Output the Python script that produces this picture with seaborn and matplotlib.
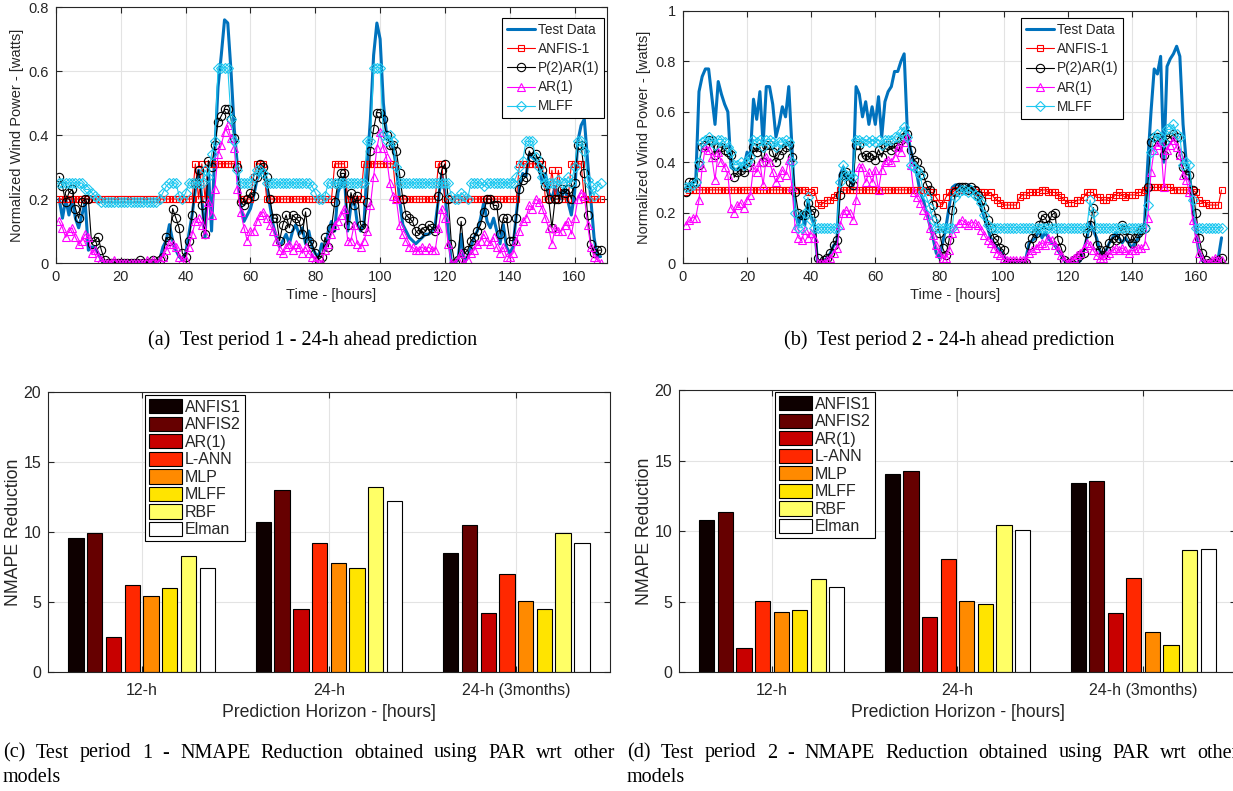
import numpy as np
import pandas as pd
import seaborn as sns
import matplotlib
matplotlib.use("Agg")
import matplotlib.pyplot as plt
from matplotlib.ticker import FuncFormatter, FixedLocator

# ---------------- data: test period 1 (hourly, 24-h ahead) ----------------
hours = list(range(1, 169))

test1 = [0.20, 0.14, 0.20, 0.15, 0.20, 0.14, 0.11, 0.15, 0.19, 0.04,
         0.05, 0.05, 0.03, 0.01, 0.00, 0.00, 0.00, 0.00, 0.00, 0.00,
         0.00, 0.00, 0.00, 0.00, 0.00, 0.00, 0.00, 0.00, 0.00, 0.00,
         0.00, 0.01, 0.05, 0.07, 0.12, 0.07, 0.04, 0.02, 0.01, 0.03,
         0.09, 0.15, 0.23, 0.29, 0.20, 0.08, 0.30, 0.10, 0.35, 0.55,
         0.65, 0.76, 0.75, 0.60, 0.42, 0.30, 0.18, 0.13, 0.15, 0.17,
         0.21, 0.26, 0.28, 0.30, 0.24, 0.18, 0.12, 0.08, 0.05, 0.07,
         0.09, 0.06, 0.10, 0.12, 0.09, 0.11, 0.06, 0.10, 0.05, 0.03,
         0.02, 0.06, 0.04, 0.10, 0.13, 0.10, 0.22, 0.25, 0.27, 0.10,
         0.18, 0.20, 0.12, 0.10, 0.12, 0.30, 0.45, 0.65, 0.75, 0.70,
         0.50, 0.40, 0.38, 0.36, 0.30, 0.20, 0.12, 0.10, 0.08, 0.07,
         0.06, 0.07, 0.08, 0.09, 0.09, 0.10, 0.12, 0.20, 0.28, 0.22,
         0.10, 0.00, 0.00, 0.01, 0.09, 0.00, 0.02, 0.05, 0.08, 0.10,
         0.14, 0.19, 0.13, 0.11, 0.14, 0.10, 0.06, 0.12, 0.05, 0.03,
         0.05, 0.15, 0.24, 0.28, 0.27, 0.34, 0.33, 0.32, 0.30, 0.25,
         0.28, 0.22, 0.20, 0.24, 0.21, 0.20, 0.24, 0.19, 0.15, 0.22,
         0.38, 0.43, 0.45, 0.32, 0.20, 0.08, 0.02, 0.02]

anfis1_p1 = [0.20] * 40 + [
         0.20, 0.20, 0.31, 0.20, 0.31, 0.20, 0.31, 0.31, 0.31, 0.31,
         0.31, 0.31, 0.31, 0.31, 0.31, 0.31, 0.20, 0.20, 0.20, 0.20,
         0.27, 0.31, 0.31, 0.31, 0.20, 0.20, 0.20, 0.20, 0.20, 0.20,
         0.20, 0.20, 0.20, 0.20, 0.20, 0.20, 0.20, 0.20, 0.20, 0.20,
         0.20, 0.20, 0.20, 0.20, 0.20, 0.31, 0.31, 0.31, 0.31, 0.20,
         0.20, 0.20, 0.20, 0.20, 0.31, 0.31, 0.31, 0.31, 0.31, 0.31,
         0.31, 0.31, 0.31, 0.31, 0.20, 0.20, 0.20, 0.20, 0.20, 0.20,
         0.20, 0.20, 0.20, 0.20, 0.20, 0.20, 0.20, 0.31, 0.31, 0.20,
         0.20, 0.20, 0.20, 0.20, 0.20, 0.20, 0.20, 0.20, 0.20, 0.20,
         0.20, 0.20, 0.20, 0.20, 0.20, 0.20, 0.20, 0.20, 0.20, 0.20,
         0.20, 0.20, 0.31, 0.31, 0.31, 0.31, 0.31, 0.31, 0.31, 0.31,
         0.20, 0.20, 0.29, 0.20, 0.29, 0.20, 0.20, 0.20, 0.31, 0.31,
         0.31, 0.31, 0.20, 0.20, 0.20, 0.20, 0.20, 0.20]

par_p1 = [0.27, 0.24, 0.19, 0.22, 0.23, 0.17, 0.14, 0.19, 0.20, 0.20,
          0.06, 0.07, 0.08, 0.04, 0.01, 0.00, 0.00, 0.00, 0.00, 0.00,
          0.00, 0.00, 0.00, 0.00, 0.00, 0.01, 0.00, 0.00, 0.00, 0.01,
          0.00, 0.01, 0.02, 0.08, 0.07, 0.17, 0.14, 0.11, 0.03, 0.02,
          0.07, 0.15, 0.25, 0.29, 0.18, 0.09, 0.32, 0.30, 0.37, 0.44,
          0.46, 0.48, 0.48, 0.45, 0.39, 0.30, 0.19, 0.18, 0.20, 0.22,
          0.21, 0.27, 0.31, 0.30, 0.27, 0.20, 0.14, 0.14, 0.07, 0.12,
          0.15, 0.11, 0.15, 0.14, 0.13, 0.09, 0.16, 0.07, 0.06, 0.03,
          0.01, 0.02, 0.08, 0.05, 0.11, 0.19, 0.25, 0.28, 0.28, 0.12,
          0.22, 0.18, 0.21, 0.12, 0.11, 0.19, 0.35, 0.42, 0.47, 0.47,
          0.45, 0.40, 0.37, 0.37, 0.35, 0.28, 0.20, 0.15, 0.14, 0.13,
          0.10, 0.09, 0.11, 0.10, 0.12, 0.11, 0.10, 0.21, 0.29, 0.31,
          0.20, 0.06, 0.00, 0.01, 0.13, 0.03, 0.04, 0.07, 0.08, 0.10,
          0.12, 0.16, 0.20, 0.20, 0.18, 0.18, 0.09, 0.14, 0.14, 0.07,
          0.07, 0.14, 0.23, 0.26, 0.27, 0.35, 0.33, 0.34, 0.32, 0.29,
          0.24, 0.20, 0.11, 0.20, 0.20, 0.23, 0.22, 0.23, 0.20, 0.25,
          0.37, 0.37, 0.28, 0.15, 0.06, 0.03, 0.04, 0.04]

ar1_p1 = [0.13, 0.11, 0.08, 0.10, 0.11, 0.08, 0.06, 0.07, 0.09, 0.08,
          0.03, 0.04, 0.02, 0.01, 0.00, 0.00, 0.00, 0.01, 0.00, 0.00,
          0.00, 0.00, 0.00, 0.00, 0.00, 0.00, 0.00, 0.01, 0.00, 0.01,
          0.00, 0.01, 0.02, 0.04, 0.06, 0.06, 0.05, 0.02, 0.01, 0.01,
          0.05, 0.09, 0.13, 0.14, 0.12, 0.09, 0.19, 0.15, 0.23, 0.34,
          0.37, 0.41, 0.43, 0.39, 0.36, 0.23, 0.16, 0.11, 0.07, 0.10,
          0.10, 0.13, 0.15, 0.16, 0.14, 0.12, 0.10, 0.07, 0.04, 0.03,
          0.05, 0.06, 0.04, 0.06, 0.05, 0.03, 0.05, 0.03, 0.02, 0.01,
          0.00, 0.00, 0.04, 0.06, 0.09, 0.12, 0.13, 0.15, 0.17, 0.07,
          0.07, 0.12, 0.06, 0.05, 0.07, 0.10, 0.18, 0.27, 0.36, 0.41,
          0.36, 0.33, 0.25, 0.21, 0.20, 0.12, 0.09, 0.07, 0.05, 0.05,
          0.04, 0.04, 0.05, 0.04, 0.05, 0.04, 0.04, 0.11, 0.17, 0.14,
          0.06, 0.00, 0.00, 0.01, 0.03, 0.00, 0.01, 0.03, 0.04, 0.06,
          0.07, 0.09, 0.07, 0.06, 0.08, 0.05, 0.03, 0.05, 0.02, 0.02,
          0.03, 0.07, 0.10, 0.13, 0.14, 0.18, 0.17, 0.20, 0.19, 0.17,
          0.14, 0.11, 0.06, 0.11, 0.10, 0.10, 0.12, 0.13, 0.09, 0.14,
          0.20, 0.22, 0.21, 0.12, 0.05, 0.02, 0.01, 0.00]

mlff_p1 = [0.25, 0.25, 0.25, 0.25, 0.25, 0.25, 0.25, 0.25, 0.23, 0.23,
           0.22, 0.21, 0.20, 0.19, 0.19, 0.19, 0.19, 0.19, 0.19, 0.19,
           0.19, 0.19, 0.19, 0.19, 0.19, 0.19, 0.19, 0.19, 0.19, 0.19,
           0.19, 0.20, 0.22, 0.24, 0.25, 0.25, 0.25, 0.21, 0.20, 0.22,
           0.25, 0.25, 0.25, 0.25, 0.25, 0.29, 0.27, 0.34, 0.38, 0.61,
           0.61, 0.61, 0.61, 0.45, 0.38, 0.29, 0.25, 0.25, 0.25, 0.25,
           0.27, 0.29, 0.29, 0.28, 0.25, 0.25, 0.25, 0.25, 0.25, 0.25,
           0.25, 0.25, 0.25, 0.25, 0.25, 0.25, 0.25, 0.25, 0.24, 0.22,
           0.20, 0.20, 0.21, 0.25, 0.25, 0.25, 0.25, 0.25, 0.25, 0.25,
           0.25, 0.25, 0.25, 0.25, 0.25, 0.38, 0.38, 0.61, 0.61, 0.61,
           0.40, 0.38, 0.40, 0.38, 0.30, 0.25, 0.25, 0.25, 0.25, 0.25,
           0.25, 0.25, 0.25, 0.25, 0.25, 0.25, 0.25, 0.25, 0.25, 0.25,
           0.25, 0.21, 0.20, 0.20, 0.22, 0.21, 0.20, 0.25, 0.25, 0.25,
           0.25, 0.24, 0.25, 0.25, 0.25, 0.25, 0.25, 0.25, 0.25, 0.25,
           0.25, 0.27, 0.30, 0.32, 0.38, 0.38, 0.38, 0.33, 0.30, 0.27,
           0.25, 0.25, 0.25, 0.25, 0.26, 0.25, 0.25, 0.27, 0.25, 0.30,
           0.38, 0.38, 0.35, 0.26, 0.24, 0.21, 0.24, 0.25]

# ---------------- data: test period 2 ----------------
test2 = [0.30, 0.31, 0.32, 0.33, 0.68, 0.74, 0.77, 0.77, 0.66, 0.55,
         0.72, 0.67, 0.63, 0.60, 0.38, 0.37, 0.37, 0.38, 0.38, 0.44,
         0.42, 0.65, 0.57, 0.68, 0.47, 0.70, 0.70, 0.63, 0.50, 0.55,
         0.62, 0.58, 0.70, 0.46, 0.20, 0.15, 0.20, 0.15, 0.25, 0.18,
         0.15, 0.00, 0.00, 0.01, 0.02, 0.04, 0.07, 0.08, 0.35, 0.38,
         0.33, 0.35, 0.30, 0.70, 0.67, 0.58, 0.64, 0.55, 0.62, 0.55,
         0.66, 0.50, 0.64, 0.68, 0.70, 0.76, 0.76, 0.80, 0.83, 0.52,
         0.45, 0.40, 0.35, 0.28, 0.25, 0.20, 0.15, 0.10, 0.04, 0.02,
         0.08, 0.14, 0.22, 0.30, 0.31, 0.31, 0.30, 0.29, 0.31, 0.30,
         0.29, 0.27, 0.22, 0.18, 0.14, 0.10, 0.08, 0.06, 0.05, 0.03,
         0.01, 0.00, 0.00, 0.00, 0.00, 0.00, 0.02, 0.08, 0.09, 0.10,
         0.13, 0.10, 0.12, 0.10, 0.08, 0.07, 0.05, 0.03, 0.01, 0.00,
         0.00, 0.00, 0.00, 0.01, 0.05, 0.10, 0.16, 0.13, 0.10, 0.05,
         0.03, 0.05, 0.08, 0.10, 0.12, 0.10, 0.08, 0.10, 0.08, 0.06,
         0.08, 0.10, 0.12, 0.16, 0.40, 0.60, 0.77, 0.75, 0.82, 0.40,
         0.78, 0.81, 0.83, 0.86, 0.82, 0.55, 0.40, 0.35, 0.22, 0.12,
         0.04, 0.01, 0.00, 0.00, 0.00, 0.00, 0.02, 0.10]

anfis1_p2 = [0.28, 0.29, 0.29, 0.29, 0.29, 0.29, 0.29, 0.29, 0.29, 0.29,
             0.29, 0.29, 0.29, 0.29, 0.29, 0.29, 0.29, 0.29, 0.29, 0.29,
             0.29, 0.29, 0.29, 0.29, 0.29, 0.29, 0.29, 0.29, 0.29, 0.29,
             0.29, 0.29, 0.29, 0.29, 0.29, 0.29, 0.29, 0.29, 0.28, 0.28,
             0.29, 0.24, 0.23, 0.24, 0.25, 0.25, 0.26, 0.27, 0.29, 0.29,
             0.29, 0.29, 0.29, 0.29, 0.29, 0.29, 0.29, 0.29, 0.29, 0.29,
             0.29, 0.29, 0.29, 0.29, 0.29, 0.29, 0.29, 0.29, 0.29, 0.29,
             0.29, 0.29, 0.29, 0.29, 0.29, 0.29, 0.28, 0.28, 0.26, 0.24,
             0.23, 0.26, 0.28, 0.28, 0.29, 0.29, 0.29, 0.29, 0.29, 0.29,
             0.29, 0.28, 0.28, 0.28, 0.27, 0.28, 0.26, 0.25, 0.24, 0.23,
             0.23, 0.23, 0.23, 0.23, 0.26, 0.27, 0.27, 0.28, 0.28, 0.28,
             0.28, 0.29, 0.29, 0.28, 0.28, 0.28, 0.27, 0.26, 0.25, 0.24,
             0.24, 0.24, 0.25, 0.25, 0.26, 0.28, 0.28, 0.28, 0.26, 0.26,
             0.25, 0.25, 0.26, 0.26, 0.27, 0.28, 0.27, 0.26, 0.27, 0.27,
             0.27, 0.28, 0.28, 0.29, 0.30, 0.30, 0.30, 0.30, 0.30, 0.30,
             0.30, 0.30, 0.29, 0.29, 0.29, 0.29, 0.29, 0.29, 0.29, 0.28,
             0.25, 0.24, 0.24, 0.23, 0.23, 0.23, 0.23, 0.29]

par_p2 = [0.28, 0.32, 0.32, 0.32, 0.39, 0.46, 0.47, 0.49, 0.49, 0.43,
          0.46, 0.46, 0.45, 0.44, 0.43, 0.34, 0.36, 0.37, 0.36, 0.38,
          0.40, 0.46, 0.44, 0.46, 0.40, 0.47, 0.47, 0.44, 0.40, 0.43,
          0.45, 0.46, 0.47, 0.42, 0.28, 0.20, 0.19, 0.19, 0.24, 0.21,
          0.20, 0.02, 0.00, 0.01, 0.02, 0.04, 0.07, 0.09, 0.27, 0.35,
          0.36, 0.32, 0.31, 0.47, 0.47, 0.42, 0.43, 0.42, 0.43, 0.41,
          0.45, 0.42, 0.46, 0.47, 0.45, 0.46, 0.47, 0.49, 0.50, 0.51,
          0.45, 0.41, 0.40, 0.37, 0.35, 0.31, 0.29, 0.23, 0.18, 0.12,
          0.06, 0.03, 0.09, 0.21, 0.28, 0.30, 0.30, 0.30, 0.29, 0.30,
          0.29, 0.27, 0.25, 0.22, 0.17, 0.14, 0.10, 0.09, 0.06, 0.05,
          0.00, 0.00, 0.00, 0.00, 0.00, 0.00, 0.00, 0.07, 0.10, 0.12,
          0.15, 0.19, 0.18, 0.15, 0.19, 0.20, 0.09, 0.06, 0.01, 0.00,
          0.00, 0.01, 0.02, 0.03, 0.04, 0.12, 0.15, 0.22, 0.07, 0.05,
          0.03, 0.05, 0.08, 0.10, 0.09, 0.10, 0.15, 0.13, 0.10, 0.08,
          0.10, 0.12, 0.13, 0.14, 0.30, 0.48, 0.50, 0.50, 0.48, 0.43,
          0.49, 0.50, 0.51, 0.50, 0.43, 0.38, 0.35, 0.35, 0.29, 0.20,
          0.10, 0.04, 0.01, 0.00, 0.00, 0.00, 0.01, 0.02]

ar1_p2 = [0.15, 0.17, 0.18, 0.18, 0.25, 0.38, 0.46, 0.45, 0.42, 0.33,
          0.44, 0.40, 0.38, 0.35, 0.22, 0.20, 0.23, 0.24, 0.22, 0.25,
          0.27, 0.38, 0.36, 0.40, 0.31, 0.42, 0.40, 0.36, 0.32, 0.34,
          0.37, 0.35, 0.41, 0.30, 0.14, 0.10, 0.09, 0.13, 0.10, 0.12,
          0.10, 0.00, 0.00, 0.00, 0.01, 0.02, 0.04, 0.06, 0.15, 0.20,
          0.21, 0.20, 0.17, 0.25, 0.38, 0.38, 0.32, 0.36, 0.32, 0.37,
          0.29, 0.37, 0.40, 0.41, 0.40, 0.42, 0.46, 0.44, 0.48, 0.50,
          0.39, 0.28, 0.26, 0.24, 0.21, 0.19, 0.14, 0.11, 0.07, 0.04,
          0.02, 0.02, 0.05, 0.12, 0.14, 0.16, 0.17, 0.16, 0.15, 0.16,
          0.16, 0.15, 0.13, 0.11, 0.09, 0.08, 0.06, 0.04, 0.03, 0.02,
          0.01, 0.01, 0.01, 0.01, 0.01, 0.01, 0.01, 0.04, 0.05, 0.06,
          0.07, 0.08, 0.07, 0.10, 0.09, 0.07, 0.05, 0.03, 0.01, 0.00,
          0.01, 0.02, 0.03, 0.04, 0.06, 0.08, 0.07, 0.05, 0.03, 0.02,
          0.02, 0.03, 0.04, 0.05, 0.06, 0.05, 0.06, 0.05, 0.04, 0.05,
          0.05, 0.06, 0.06, 0.07, 0.18, 0.36, 0.45, 0.47, 0.48, 0.30,
          0.45, 0.47, 0.49, 0.46, 0.43, 0.35, 0.33, 0.28, 0.17, 0.10,
          0.04, 0.01, 0.00, 0.00, 0.01, 0.02, 0.01, 0.01]

mlff_p2 = [0.30, 0.30, 0.31, 0.32, 0.40, 0.48, 0.49, 0.50, 0.49, 0.47,
           0.49, 0.49, 0.48, 0.46, 0.44, 0.39, 0.39, 0.40, 0.39, 0.40,
           0.42, 0.49, 0.48, 0.49, 0.46, 0.49, 0.49, 0.48, 0.46, 0.48,
           0.48, 0.49, 0.48, 0.40, 0.20, 0.14, 0.14, 0.20, 0.26, 0.17,
           0.14, 0.14, 0.14, 0.14, 0.14, 0.14, 0.14, 0.14, 0.32, 0.39,
           0.35, 0.35, 0.34, 0.49, 0.49, 0.48, 0.49, 0.48, 0.49, 0.48,
           0.49, 0.47, 0.49, 0.49, 0.49, 0.50, 0.50, 0.52, 0.54, 0.50,
           0.39, 0.38, 0.37, 0.35, 0.28, 0.26, 0.22, 0.17, 0.14, 0.14,
           0.14, 0.14, 0.14, 0.14, 0.26, 0.28, 0.29, 0.29, 0.28, 0.29,
           0.27, 0.26, 0.24, 0.19, 0.15, 0.14, 0.14, 0.14, 0.14, 0.14,
           0.14, 0.14, 0.14, 0.14, 0.14, 0.14, 0.14, 0.14, 0.14, 0.14,
           0.14, 0.14, 0.14, 0.14, 0.14, 0.14, 0.14, 0.14, 0.14, 0.14,
           0.14, 0.14, 0.14, 0.14, 0.14, 0.14, 0.25, 0.20, 0.14, 0.14,
           0.14, 0.14, 0.14, 0.14, 0.14, 0.14, 0.14, 0.14, 0.14, 0.14,
           0.14, 0.14, 0.14, 0.14, 0.23, 0.44, 0.50, 0.51, 0.50, 0.48,
           0.53, 0.53, 0.55, 0.51, 0.50, 0.39, 0.40, 0.39, 0.25, 0.14,
           0.14, 0.14, 0.14, 0.14, 0.14, 0.14, 0.14, 0.14]

# ---------------- data: NMAPE reduction bars ----------------
horizons = ["12-h", "24-h", "24-h (3months)"]
models = ["ANFIS1", "ANFIS2", "AR(1)", "L-ANN", "MLP", "MLFF", "RBF", "Elman"]
nmape_p1 = {
    "12-h":           [9.6, 9.9, 2.5, 6.2, 5.4, 6.0, 8.3, 7.45],
    "24-h":           [10.7, 13.0, 4.5, 9.2, 7.8, 7.4, 13.2, 12.2],
    "24-h (3months)": [8.5, 10.5, 4.2, 7.0, 5.1, 4.5, 9.95, 9.25],
}
nmape_p2 = {
    "12-h":           [10.8, 11.35, 1.7, 5.05, 4.25, 4.4, 6.6, 6.0],
    "24-h":           [14.05, 14.25, 3.9, 8.05, 5.05, 4.8, 10.4, 10.05],
    "24-h (3months)": [13.4, 13.55, 4.2, 6.7, 2.85, 1.9, 8.65, 8.7],
}
bar_colors = ["#0e0000", "#660000", "#c80000", "#ff2800",
              "#ff8a00", "#ffe400", "#ffff66", "#ffffff"]

# ---------------- styling ----------------
sns.set_theme(style="white")
plt.rcParams["font.family"] = ["Liberation Sans", "DejaVu Sans"]
AX_COL = "#262626"
GRID_COL = "#e3e3e3"

fig = plt.figure(figsize=(12.33, 7.91), dpi=100)


def style_axes(ax, fs):
    ax.grid(True, color=GRID_COL, linewidth=0.8)
    ax.set_axisbelow(True)
    for s in ax.spines.values():
        s.set_visible(True)
        s.set_color(AX_COL)
        s.set_linewidth(0.8)
    ax.tick_params(direction="in", length=4, width=0.8, colors=AX_COL,
                   labelsize=fs, top=True, right=True, bottom=True, left=True,
                   labelcolor=AX_COL, pad=5)


def time_panel(rect, series, ymax, legend_anchor):
    ax = fig.add_axes(rect)
    t, anf, par, ar, ml = series
    sns.lineplot(x=hours, y=t, ax=ax, color="#0072BD", linewidth=2.2,
                 label="Test Data")
    sns.lineplot(x=hours, y=anf, ax=ax, color="#ff0000", linewidth=0.8,
                 marker="s", markersize=5, markerfacecolor="none",
                 markeredgecolor="#ff0000", markeredgewidth=0.8, label="ANFIS-1")
    sns.lineplot(x=hours, y=par, ax=ax, color="black", linewidth=0.8,
                 marker="o", markersize=6, markerfacecolor="none",
                 markeredgecolor="black", markeredgewidth=0.8, label="P(2)AR(1)")
    sns.lineplot(x=hours, y=ar, ax=ax, color="#ff00ff", linewidth=0.8,
                 marker="^", markersize=6, markerfacecolor="none",
                 markeredgecolor="#ff00ff", markeredgewidth=0.8, label="AR(1)")
    sns.lineplot(x=hours, y=ml, ax=ax, color="#1ec8f0", linewidth=0.8,
                 marker="D", markersize=5, markerfacecolor="none",
                 markeredgecolor="#1ec8f0", markeredgewidth=0.8, label="MLFF")
    ax.set_xlim(0, 170)
    ax.set_ylim(0, ymax)
    ax.xaxis.set_major_locator(FixedLocator(list(range(0, 161, 20))))
    ax.yaxis.set_major_locator(FixedLocator(list(np.round(np.arange(0, ymax + 1e-9, 0.2), 1))))
    ax.yaxis.set_major_formatter(FuncFormatter(lambda v, p: f"{v:g}"))
    style_axes(ax, 10.5)
    ax.set_xlabel("Time - [hours]", fontsize=10.5, color=AX_COL, labelpad=3)
    ax.set_ylabel("Normalized Wind Power - [watts]", fontsize=10.5,
                  color=AX_COL, labelpad=3)
    leg = ax.legend(loc="upper right", bbox_to_anchor=legend_anchor,
                    fontsize=9.8, frameon=True, fancybox=False, framealpha=1,
                    edgecolor="black", borderpad=0.35, labelspacing=0.38,
                    handlelength=2.1, handletextpad=0.2, borderaxespad=0)
    leg.get_frame().set_linewidth(0.8)
    return ax


def bar_panel(rect, values, legend_anchor):
    ax = fig.add_axes(rect)
    rows = []
    for h in horizons:
        for m, v in zip(models, values[h]):
            rows.append({"horizon": h, "model": m, "value": v})
    df = pd.DataFrame(rows)
    sns.barplot(data=df, x="horizon", y="value", hue="model", order=horizons,
                hue_order=models, palette=bar_colors, width=0.8, gap=0.18,
                edgecolor="black", linewidth=0.8, ax=ax, errorbar=None,
                saturation=1)
    ax.set_xlim(-0.5, 2.5)
    ax.set_ylim(0, 20)
    ax.yaxis.set_major_locator(FixedLocator([0, 5, 10, 15, 20]))
    style_axes(ax, 11.5)
    ax.tick_params(axis="x", pad=8)
    ax.set_xlabel("Prediction Horizon - [hours]", fontsize=12.7, color=AX_COL,
                  labelpad=4)
    ax.set_ylabel("NMAPE Reduction", fontsize=12.7, color=AX_COL, labelpad=1)
    leg = ax.legend(loc="upper left", bbox_to_anchor=legend_anchor,
                    fontsize=11.5, frameon=True, fancybox=False, framealpha=1,
                    edgecolor="black", borderpad=0.25, labelspacing=0.12,
                    handlelength=2.1, handleheight=1.0, handletextpad=0.15,
                    borderaxespad=0, title=None)
    leg.get_frame().set_linewidth(0.8)
    return ax


ax_a = time_panel([0.0454, 0.6675, 0.4469, 0.3236],
                  (test1, anfis1_p1, par_p1, ar1_p1, mlff_p1), 0.8, (0.995, 0.957))
ax_b = time_panel([0.5539, 0.6675, 0.4420, 0.3186],
                  (test2, anfis1_p2, par_p2, ar1_p2, mlff_p2), 1.0, (0.808, 0.971))
ax_c = bar_panel([0.0389, 0.1504, 0.4558, 0.3540], nmape_p1, (0.1726, 0.989))
ax_d = bar_panel([0.5507, 0.1504, 0.4517, 0.3565], nmape_p2, (0.172, 0.993))

# ---------------- sub-figure captions ----------------
SERIF = ["Liberation Serif", "DejaVu Serif"]
CAP_FS = 14.5
fig.text(313 / 1233, 1 - 340 / 791, "(a)  Test period 1 - 24-h ahead prediction",
         ha="center", va="center", fontsize=CAP_FS, family=SERIF, color="black")
fig.text(949 / 1233, 1 - 340 / 791, "(b)  Test period 2 - 24-h ahead prediction",
         ha="center", va="center", fontsize=CAP_FS, family=SERIF, color="black")

fig.canvas.draw()
renderer = fig.canvas.get_renderer()


def justified(words, x0, x1, y):
    """Place words on one line so that they span x0..x1 (pixels)."""
    widths = []
    for w in words:
        t = fig.text(0, 0, w, fontsize=CAP_FS, family=SERIF)
        widths.append(t.get_window_extent(renderer).width)
        t.remove()
    gap = (x1 - x0 - sum(widths)) / (len(words) - 1)
    x = x0
    for w, wd in zip(words, widths):
        fig.text(x / 1233, 1 - y / 791, w, ha="left", va="center",
                 fontsize=CAP_FS, family=SERIF, color="black")
        x += wd + gap


line_c = "(c) Test period 1 - NMAPE Reduction obtained using PAR wrt other".split()
line_d = "(d) Test period 2 - NMAPE Reduction obtained using PAR wrt other".split()
justified(line_c, 3, 615, 753)
justified(line_d, 627, 1239, 753)
fig.text(3 / 1233, 1 - 778 / 791, "models", ha="left", va="center",
         fontsize=CAP_FS, family=SERIF, color="black")
fig.text(627 / 1233, 1 - 778 / 791, "models", ha="left", va="center",
         fontsize=CAP_FS, family=SERIF, color="black")

fig.savefig("out.png", dpi=100)
